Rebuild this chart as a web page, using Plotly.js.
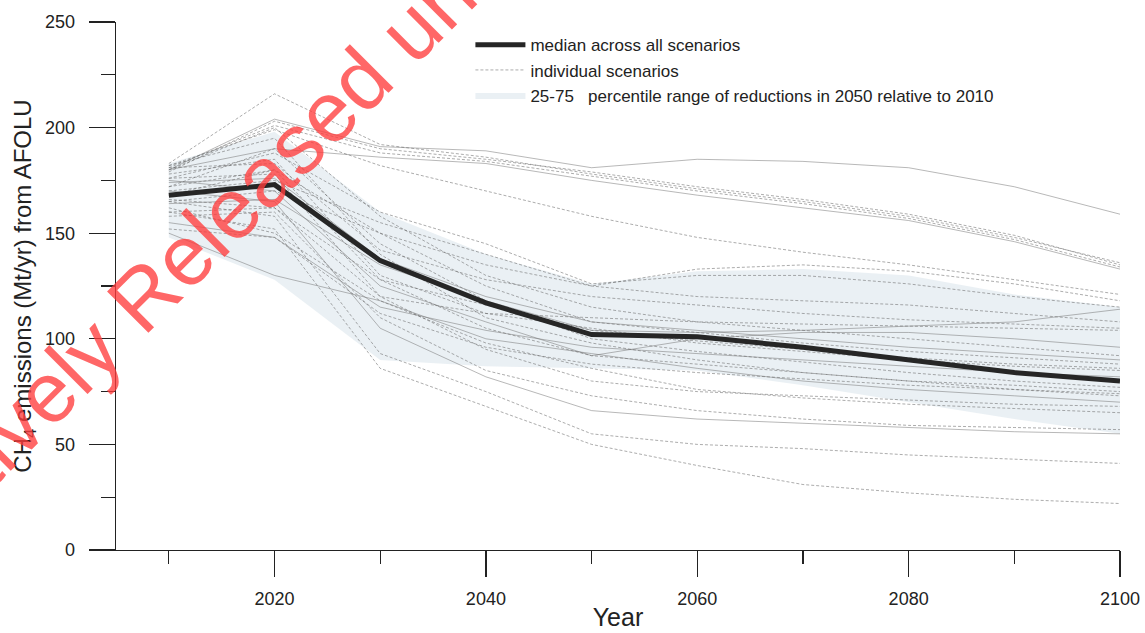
<!DOCTYPE html>
<html>
<head>
<meta charset="utf-8">
<script src="https://cdn.plot.ly/plotly-3.0.1.min.js"></script>
<style>html,body{margin:0;padding:0;background:#fff;}#chart{width:1145px;height:633px;}</style>
</head>
<body>
<div id="chart"></div>
<script>
// Years on the x axis
const years = [2010, 2020, 2030, 2040, 2050, 2060, 2070, 2080, 2090, 2100];

// Median across all scenarios (Mt CH4/yr)
const medianValues = [168, 173, 137, 117, 102, 101, 96, 90, 84, 80];

// 25-75 percentile range envelope
const bandUpper = [183, 198, 160, 140, 126, 132, 133, 130, 121, 115];
const bandLower = [148, 128, 90, 87, 86, 85, 78, 70, 62, 55];

// Individual scenarios
const scen01 = [180, 204, 191, 189, 181, 185, 184, 181, 172, 159];
const scen02 = [183, 216, 192, 186, 178, 171, 165, 158, 148, 136];
const scen03 = [181, 201, 188, 184, 177, 170, 164, 157, 147, 134];
const scen04 = [179, 203, 190, 185, 179, 172, 166, 159, 149, 135];
const scen05 = [180, 190, 186, 183, 175, 168, 162, 156, 146, 133];
const scen06 = [182, 199, 182, 170, 158, 148, 141, 135, 128, 121];
const scen07 = [172, 180, 150, 135, 125, 133, 135, 132, 126, 118];
const scen08 = [176, 188, 160, 145, 126, 130, 130, 126, 120, 115];
const scen09 = [164, 166, 135, 118, 104, 103, 104, 106, 108, 114];
const scen10 = [170, 175, 155, 140, 125, 120, 118, 116, 112, 108];
const scen11 = [181, 183, 142, 128, 120, 116, 112, 109, 107, 105];
const scen12 = [160, 162, 120, 112, 110, 108, 107, 106, 105, 104];
const scen13 = [175, 170, 125, 108, 92, 100, 103, 103, 100, 96];
const scen14 = [180, 200, 158, 130, 115, 108, 104, 100, 96, 92];
const scen15 = [165, 170, 150, 125, 108, 103, 98, 94, 91, 88];
const scen16 = [178, 185, 130, 112, 105, 98, 94, 90, 87, 85];
const scen17 = [155, 148, 115, 104, 96, 93, 90, 87, 84, 82];
const scen18 = [172, 190, 145, 118, 100, 94, 89, 84, 80, 77];
const scen19 = [168, 180, 128, 105, 92, 88, 84, 80, 78, 75];
const scen20 = [182, 195, 140, 110, 98, 90, 84, 80, 76, 73];
const scen21 = [150, 130, 118, 100, 93, 86, 80, 76, 73, 70];
const scen22 = [176, 178, 120, 95, 80, 75, 73, 71, 69, 68];
const scen23 = [162, 150, 118, 98, 86, 76, 72, 69, 67, 65];
const scen24 = [158, 160, 110, 85, 73, 66, 62, 59, 58, 57];
const scen25 = [170, 165, 105, 82, 66, 62, 60, 58, 56, 55];
const scen26 = [165, 158, 93, 75, 55, 50, 48, 45, 43, 41];
const scen27 = [160, 152, 86, 68, 50, 40, 31, 27, 24, 22];
const scen28 = [152, 148, 112, 96, 88, 84, 81, 78, 76, 74];
const scen29 = [174, 176, 138, 120, 108, 104, 100, 96, 93, 90];
const scen30 = [166, 162, 128, 116, 104, 99, 95, 91, 88, 86];
const scenarios = [scen01, scen02, scen03, scen04, scen05, scen06, scen07, scen08, scen09, scen10,
  scen11, scen12, scen13, scen14, scen15, scen16, scen17, scen18, scen19, scen20,
  scen21, scen22, scen23, scen24, scen25, scen26, scen27, scen28, scen29, scen30];

// Text
const legendMedian = "median across all scenarios";
const legendIndividual = "individual scenarios";
const legendBand = "25-75\u00a0\u00a0\u00a0percentile range of reductions in 2050 relative to 2010";
const xTitle = "Year";
const yTitle = "CH<sub>4</sub> emissions (Mt/yr) from AFOLU";
const watermark = "Proactively Released under the Official Information Act";

const traces = [];
traces.push({x: years, y: bandLower, type: 'scatter', mode: 'lines', line: {width: 0}, showlegend: false, hoverinfo: 'skip'});
traces.push({x: years, y: bandUpper, type: 'scatter', mode: 'lines', line: {width: 0}, fill: 'tonexty',
  fillcolor: 'rgba(214,226,234,0.5)', name: legendBand, legendrank: 3, showlegend: true});
scenarios.forEach((s, i) => {
  const solid = i % 4 === 0;
  traces.push({x: years, y: s, type: 'scatter', mode: 'lines',
    line: {color: solid ? 'rgba(110,110,110,0.55)' : 'rgba(100,100,100,0.6)', width: 0.9, dash: solid ? 'solid' : '3px,2px'},
    name: legendIndividual, legendgroup: 'ind', showlegend: i === 1, legendrank: 2});
});
traces.push({x: years, y: medianValues, type: 'scatter', mode: 'lines', line: {color: '#262626', width: 5},
  name: legendMedian, legendrank: 1});

const layout = {
  width: 1145, height: 633,
  margin: {l: 116, r: 25, t: 22, b: 83},
  paper_bgcolor: '#fff', plot_bgcolor: '#fff',
  font: {family: 'Liberation Sans, Arial, sans-serif', color: '#222'},
  xaxis: {
    range: [2005, 2100], showgrid: false, zeroline: false, showline: true, linecolor: '#222', linewidth: 1.3,
    ticks: 'outside', ticklen: 26, tickwidth: 1.3, tickcolor: '#222', tick0: 2000, dtick: 20,
    minor: {dtick: 10, tick0: 2000, ticks: 'outside', ticklen: 13, tickwidth: 1.3, tickcolor: '#222'},
    tickfont: {family: 'Liberation Sans, Arial, sans-serif', size: 18, color: '#222'},
    ticklabelstandoff: 6,
    title: {text: xTitle, font: {family: 'Liberation Sans, Arial, sans-serif', size: 25, color: '#222'}, standoff: 0}
  },
  yaxis: {
    range: [0, 250], showgrid: false, zeroline: false, showline: true, linecolor: '#222', linewidth: 1.3,
    ticks: 'outside', ticklen: 26, tickwidth: 1.3, tickcolor: '#222', dtick: 50,
    minor: {dtick: 25, ticks: 'outside', ticklen: 14, tickwidth: 1.3, tickcolor: '#222'},
    tickfont: {family: 'Liberation Sans, Arial, sans-serif', size: 18, color: '#222'},
    ticklabelstandoff: 10,
    title: {text: yTitle, font: {size: 24, color: '#222'}, standoff: 6}
  },
  legend: {
    x: 0.353, y: 0.99, xanchor: 'left', yanchor: 'top', bgcolor: 'rgba(0,0,0,0)',
    font: {family: 'Liberation Sans, Arial, sans-serif', size: 17, color: '#222'},
    tracegroupgap: 0, itemwidth: 50
  },
  annotations: [{
    xref: 'paper', yref: 'paper', x: 0.4203, y: 1.229, xanchor: 'center', yanchor: 'middle',
    text: watermark, showarrow: false,
    textangle: -45, font: {family: 'Liberation Sans, Arial, sans-serif', size: 85, color: 'rgba(255,60,60,0.78)'}
  }],
  showlegend: true
};

Plotly.newPlot('chart', traces, layout, {displayModeBar: false, staticPlot: true});
</script>
</body>
</html>
